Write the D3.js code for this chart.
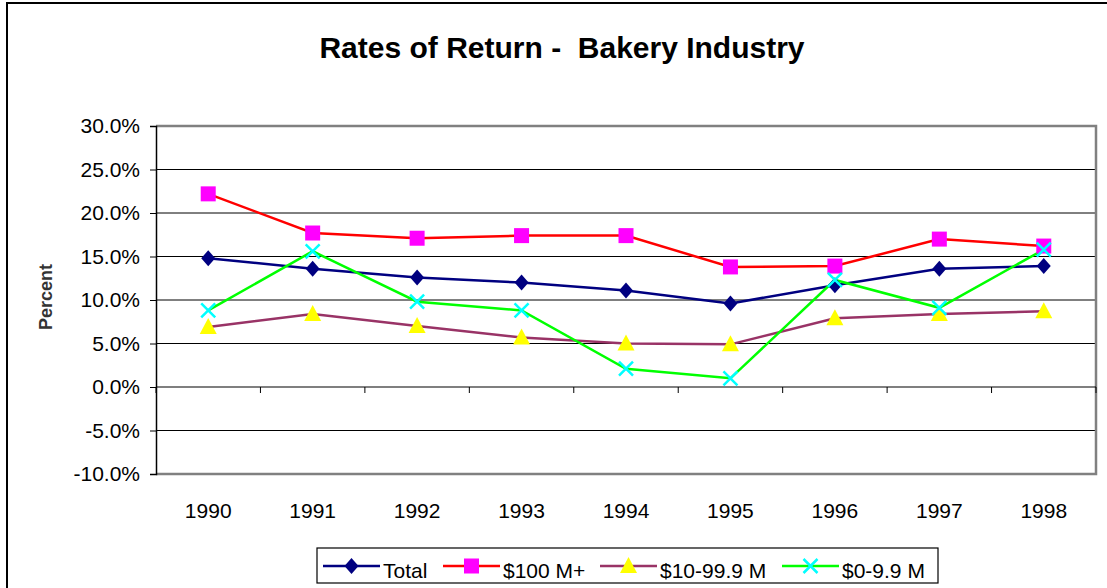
<!DOCTYPE html>
<html>
<head>
<meta charset="utf-8">
<script src="https://cdn.jsdelivr.net/npm/d3@7"></script>
<style>
body { margin: 0; background: #fff; }
svg { display: block; }
</style>
</head>
<body>
<script>
var width = 1107, height = 588;

var years = ["1990", "1991", "1992", "1993", "1994", "1995", "1996", "1997", "1998"];
var yTicks = [-10, -5, 0, 5, 10, 15, 20, 25, 30];

var total    = [14.8, 13.6, 12.6, 12.0, 11.1, 9.6, 11.7, 13.6, 13.9];
var over100  = [22.2, 17.7, 17.1, 17.4, 17.4, 13.8, 13.9, 17.0, 16.2];
var mid10    = [6.9, 8.4, 7.0, 5.7, 5.0, 4.9, 7.9, 8.4, 8.7];
var under10  = [8.8, 15.6, 9.8, 8.8, 2.1, 1.0, 12.3, 9.1, 15.8];

var seriesNames = ["Total", "$100 M+", "$10-99.9 M", "$0-9.9 M"];

var font = "Liberation Sans, Arial, sans-serif";

var series = [
	{name: seriesNames[0], values: total,   line: "#000080", fill: "#000080", marker: "diamond"},
	{name: seriesNames[1], values: over100, line: "#ff0000", fill: "#ff00ff", marker: "square"},
	{name: seriesNames[2], values: mid10,   line: "#993366", fill: "#ffff00", marker: "triangle"},
	{name: seriesNames[3], values: under10, line: "#00ff00", fill: "#00ffff", marker: "cross"}
];

var plot = {left: 156, right: 1096, top: 126, bottom: 474};

var svg = d3.select("body")
	.append("svg")
	.attr("width", width)
	.attr("height", height);

var x = d3.scaleBand()
	.domain(years)
	.range([plot.left, plot.right]);

var y = d3.scaleLinear()
	.domain([-10, 30])
	.range([plot.bottom, plot.top]);

function drawMarker(g, type, color){
	if (type == "diamond") {
		g.append("path")
		.attr("d", "M0,-8L7,0L0,8L-7,0Z")
		.attr("fill", color);
	} else if (type == "square") {
		g.append("rect")
		.attr("x", -7.5).attr("y", -7.5)
		.attr("width", 15).attr("height", 15)
		.attr("fill", color);
	} else if (type == "triangle") {
		g.append("path")
		.attr("d", "M0,-9L8.5,7L-8.5,7Z")
		.attr("fill", color);
	} else {
		g.append("path")
		.attr("d", "M-7,-7L7,7M-7,7L7,-7")
		.attr("stroke", color)
		.attr("stroke-width", 2.5)
		.attr("fill", "none");
	}
}

// outer frame
svg.append("path")
	.attr("d", "M7," + height + "L7,3L" + width + ",3")
	.attr("fill", "none")
	.attr("stroke", "#000")
	.attr("stroke-width", 2);

svg.append("text")
	.attr("x", 562)
	.attr("y", 58)
	.attr("text-anchor", "middle")
	.attr("font-family", font)
	.attr("font-weight", "bold")
	.attr("font-size", 30)
	.attr("fill", "#000")
	.style("white-space", "pre")
	.text("Rates of Return -  Bakery Industry");

// grid lines
svg.append("g")
	.selectAll("line")
	.data(yTicks.filter(function(d){ return d > -10 && d < 30 && d != 0; }))
	.enter()
	.append("line")
	.attr("x1", plot.left)
	.attr("x2", plot.right)
	.attr("y1", function(d){ return y(d); })
	.attr("y2", function(d){ return y(d); })
	.attr("stroke", "#000")
	.attr("stroke-width", 1);

// plot border (grey)
svg.append("path")
	.attr("d", "M" + plot.left + "," + plot.top + "L" + plot.right + "," + plot.top +
		"L" + plot.right + "," + plot.bottom + "L" + plot.left + "," + plot.bottom)
	.attr("fill", "none")
	.attr("stroke", "#808080")
	.attr("stroke-width", 2.5);

// y axis
var yAxis = d3.axisLeft(y)
	.tickValues(yTicks)
	.tickSize(6)
	.tickPadding(10)
	.tickFormat(function(d){ return d.toFixed(1) + "%"; });

var gy = svg.append("g")
	.attr("transform", "translate(" + plot.left + ",0)")
	.call(yAxis);
gy.select(".domain").attr("stroke", "#000").attr("stroke-width", 1.5);
gy.selectAll(".tick line").attr("stroke", "#000");
gy.selectAll(".tick text")
	.attr("font-family", font)
	.attr("font-size", 21)
	.attr("fill", "#000");

// x axis at 0%, ticks between categories
var boundaries = d3.range(years.length + 1).map(function(i){ return plot.left + i * x.bandwidth(); });
svg.append("line")
	.attr("x1", plot.left).attr("x2", plot.right)
	.attr("y1", y(0)).attr("y2", y(0))
	.attr("stroke", "#000")
	.attr("stroke-width", 1.2);
svg.append("g")
	.selectAll("line")
	.data(boundaries)
	.enter()
	.append("line")
	.attr("x1", function(d){ return d; })
	.attr("x2", function(d){ return d; })
	.attr("y1", y(0))
	.attr("y2", y(0) + 6)
	.attr("stroke", "#000");

svg.append("g")
	.selectAll("text")
	.data(years)
	.enter()
	.append("text")
	.attr("x", function(d){ return x(d) + x.bandwidth() / 2; })
	.attr("y", 518)
	.attr("text-anchor", "middle")
	.attr("font-family", font)
	.attr("font-size", 21)
	.attr("fill", "#000")
	.text(function(d){ return d; });

svg.append("text")
	.attr("transform", "translate(52,297) rotate(-90)")
	.attr("text-anchor", "middle")
	.attr("font-family", font)
	.attr("font-weight", "bold")
	.attr("font-size", 18)
	.attr("fill", "#333")
	.text("Percent");

// series
var line = d3.line()
	.x(function(d, i){ return x(years[i]) + x.bandwidth() / 2; })
	.y(function(d){ return y(d); });

series.forEach(function(s){
	svg.append("path")
	.datum(s.values)
	.attr("d", line)
	.attr("fill", "none")
	.attr("stroke", s.line)
	.attr("stroke-width", 2.5);
});

series.forEach(function(s){
	s.values.forEach(function(v, i){
		var g = svg.append("g")
			.attr("transform", "translate(" + (x(years[i]) + x.bandwidth() / 2) + "," + y(v) + ")");
		drawMarker(g, s.marker, s.fill);
	});
});

// legend
var legendX = [323, 443, 600, 782];
svg.append("rect")
	.attr("x", 317)
	.attr("y", 548)
	.attr("width", 621)
	.attr("height", 35)
	.attr("fill", "#fff")
	.attr("stroke", "#000")
	.attr("stroke-width", 1.2);

series.forEach(function(s, i){
	var lx = legendX[i];
	svg.append("line")
	.attr("x1", lx).attr("x2", lx + 57)
	.attr("y1", 566).attr("y2", 566)
	.attr("stroke", s.line)
	.attr("stroke-width", 2.5);
	var g = svg.append("g").attr("transform", "translate(" + (lx + 28.5) + ",566)");
	drawMarker(g, s.marker, s.fill);
	svg.append("text")
	.attr("x", lx + 60)
	.attr("y", 578)
	.attr("font-family", font)
	.attr("font-size", 21)
	.attr("fill", "#000")
	.text(s.name);
});
</script>
</body>
</html>
